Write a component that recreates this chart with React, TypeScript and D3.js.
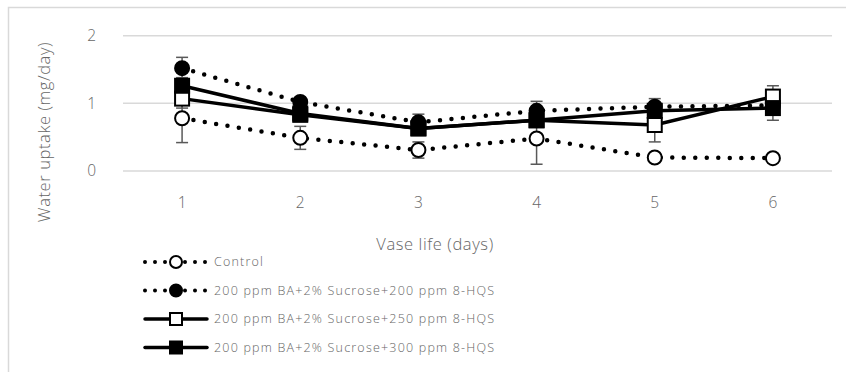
import React, { useEffect, useRef } from 'react';
import * as d3 from 'd3';

const days = ['1', '2', '3', '4', '5', '6'];
const yTicks = [0, 1, 2];

const control = [0.78, 0.49, 0.31, 0.48, 0.2, 0.19];
const controlErr = [0.36, 0.17, 0.12, 0.38, 0.02, 0.02];
const ba200 = [1.52, 1.02, 0.72, 0.89, 0.95, 0.97];
const ba200Err = [0.16, 0.06, 0.12, 0.14, 0.12, 0.05];
const ba250 = [1.07, 0.83, 0.63, 0.75, 0.68, 1.1];
const ba250Err = [0.14, 0.08, 0.1, 0.08, 0.25, 0.16];
const ba300 = [1.26, 0.85, 0.63, 0.75, 0.89, 0.93];
const ba300Err = [0.12, 0.07, 0.1, 0.06, 0.1, 0.18];

const seriesNames = [
  'Control',
  '200 ppm BA+2% Sucrose+200 ppm 8-HQS',
  '200 ppm BA+2% Sucrose+250 ppm 8-HQS',
  '200 ppm BA+2% Sucrose+300 ppm 8-HQS',
];

const FONT = '"Open Sans", Lato, sans-serif';
const TEXT_COLOR = '#666';

const App = () => {
  const svgRef = useRef<SVGSVGElement>(null);

  useEffect(() => {
    const width = 846;
    const height = 372;
    const svg = d3.select(svgRef.current);
    svg.selectAll('*').remove();
    svg.attr('width', width).attr('height', height);

    // chart frame (only left and top are visible)
    svg.append('rect')
      .attr('x', 8.5).attr('y', 7.5)
      .attr('width', 900).attr('height', 900)
      .attr('fill', '#fff')
      .attr('stroke', '#d9d9d9')
      .attr('stroke-width', 1.5);

    const x = d3.scalePoint().domain(days).range([123, 832]).padding(0.5);
    const y = d3.scaleLinear().domain([0, 2]).range([171, 35.7]);

    // gridlines
    svg.append('g')
      .selectAll('line')
      .data(yTicks)
      .join('line')
      .attr('x1', 123).attr('x2', 832)
      .attr('y1', d => y(d)).attr('y2', d => y(d))
      .attr('stroke', '#d9d9d9')
      .attr('stroke-width', 1.5);

    const addText = (sel: any, size: number) =>
      sel.style('font-family', FONT)
        .style('font-size', `${size}px`)
        .style('font-weight', 300)
        .style('fill', TEXT_COLOR);

    // y tick labels
    addText(svg.append('g')
      .selectAll('text')
      .data(yTicks)
      .join('text')
      .attr('x', 96)
      .attr('y', d => y(d))
      .attr('dy', '0.35em')
      .attr('text-anchor', 'end')
      .text(d => d), 15.5);

    // x tick labels
    addText(svg.append('g')
      .selectAll('text')
      .data(days)
      .join('text')
      .attr('x', d => x(d)!)
      .attr('y', 203)
      .attr('dy', '0.35em')
      .attr('text-anchor', 'middle')
      .text(d => d), 15.5);

    // axis titles
    addText(svg.append('text')
      .attr('x', 435).attr('y', 244)
      .attr('dy', '0.35em')
      .attr('text-anchor', 'middle')
      .style('letter-spacing', '0.6px')
      .text('Vase life (days)'), 16.5);

    addText(svg.append('text')
      .attr('transform', 'translate(44,132) rotate(-90)')
      .attr('dy', '0.35em')
      .attr('text-anchor', 'middle')
      .style('letter-spacing', '0.6px')
      .text('Water uptake (mg/day)'), 16.5);

    const series = [
      { values: control, err: controlErr, dotted: true, shape: 'circle', fill: '#fff' },
      { values: ba200, err: ba200Err, dotted: true, shape: 'circle', fill: '#000' },
      { values: ba250, err: ba250Err, dotted: false, shape: 'square', fill: '#fff' },
      { values: ba300, err: ba300Err, dotted: false, shape: 'square', fill: '#000' },
    ];

    const line = d3.line<number>()
      .x((_, i) => x(days[i])!)
      .y(d => y(d));

    const styleLine = (sel: any, dotted: boolean) => {
      sel.attr('fill', 'none')
        .attr('stroke', '#000')
        .attr('stroke-linecap', 'round');
      if (dotted) sel.attr('stroke-width', 4.5).attr('stroke-dasharray', '0 11.5');
      else sel.attr('stroke-width', 3.5);
    };

    const drawMarker = (g: any, cx: number, cy: number, shape: string, fill: string, size = 7) => {
      if (shape === 'circle') {
        g.append('circle')
          .attr('cx', cx).attr('cy', cy).attr('r', size)
          .attr('fill', fill)
          .attr('stroke', '#000')
          .attr('stroke-width', 2);
      } else {
        g.append('rect')
          .attr('x', cx - size).attr('y', cy - size)
          .attr('width', size * 2).attr('height', size * 2)
          .attr('fill', fill)
          .attr('stroke', '#000')
          .attr('stroke-width', 2);
      }
    };

    // error bars
    const errG = svg.append('g');
    series.forEach(s => {
      s.values.forEach((v, i) => {
        const cx = x(days[i])!;
        const top = y(v + s.err[i]);
        const bot = y(v - s.err[i]);
        errG.append('line')
          .attr('x1', cx).attr('x2', cx).attr('y1', top).attr('y2', bot)
          .attr('stroke', '#595959').attr('stroke-width', 1.5);
        [top, bot].forEach(yy => {
          errG.append('line')
            .attr('x1', cx - 6).attr('x2', cx + 6).attr('y1', yy).attr('y2', yy)
            .attr('stroke', '#595959').attr('stroke-width', 1.5);
        });
      });
    });

    // lines and markers
    series.forEach(s => {
      const g = svg.append('g');
      styleLine(g.append('path').attr('d', line(s.values)), s.dotted);
      s.values.forEach((v, i) => drawMarker(g, x(days[i])!, y(v), s.shape, s.fill));
    });

    // legend
    const legendY = [262, 290.5, 319, 347.5];
    series.forEach((s, i) => {
      const g = svg.append('g');
      const ly = legendY[i];
      const l = g.append('line')
        .attr('x1', 145).attr('x2', 207)
        .attr('y1', ly).attr('y2', ly);
      styleLine(l, s.dotted);
      if (s.dotted) l.attr('stroke-width', 4).attr('stroke-dasharray', '0 10');
      drawMarker(g, 176, ly, s.shape, s.fill, 6);
      addText(g.append('text')
        .attr('x', 214).attr('y', ly)
        .attr('dy', '0.35em')
        .style('letter-spacing', '1.2px')
        .text(seriesNames[i]), 12.5);
    });
  }, []);

  return (
    <svg ref={svgRef} style={{ position: 'absolute', left: 0, top: 0 }}></svg>
  );
};

export default App;
